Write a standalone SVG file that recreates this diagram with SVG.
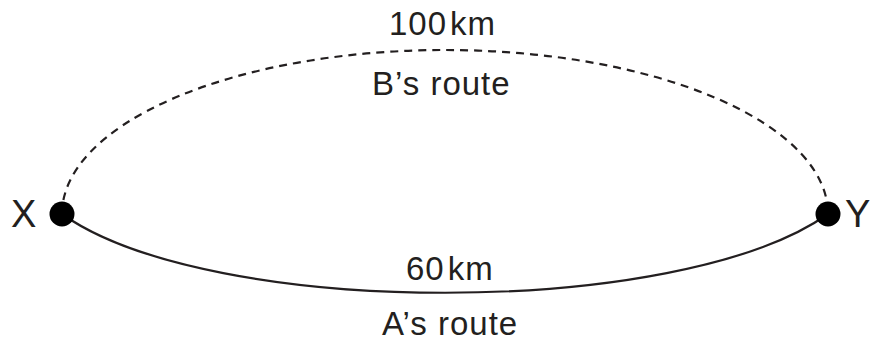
<svg xmlns="http://www.w3.org/2000/svg" width="870" height="345" viewBox="0 0 870 345">
<style>
text{font-family:"Liberation Sans",Arial,sans-serif;fill:#231f20}
.lbl{font-size:33px;letter-spacing:1px}
.pt{font-size:38px}
.dot{fill:#000}
.route{fill:none;stroke:#231f20;stroke-width:2.2}
.dash{stroke-dasharray:8 6}
</style>
<rect width="870" height="345" fill="#fff"/>
<g id="connectors">
<path id="routeB" class="route dash" d="M62,214 A383,164 0 0 1 828,214"/>
<path id="routeA" class="route" d="M62,214 C210,319 680,319 828,214"/>
</g>
<g id="nodeX">
<circle class="dot" cx="62" cy="214" r="12.5"/>
<text class="pt" x="11" y="227">X</text>
</g>
<g id="nodeY">
<circle class="dot" cx="828" cy="214" r="12.5"/>
<text class="pt" x="845" y="227">Y</text>
</g>
<g id="labels">
<text class="lbl" x="389" y="35">100<tspan dx="3">km</tspan></text>
<text class="lbl" x="372" y="95">B’s route</text>
<text class="lbl" x="406" y="280">60<tspan dx="3">km</tspan></text>
<text class="lbl" x="382" y="335">A’s route</text>
</g>
</svg>
